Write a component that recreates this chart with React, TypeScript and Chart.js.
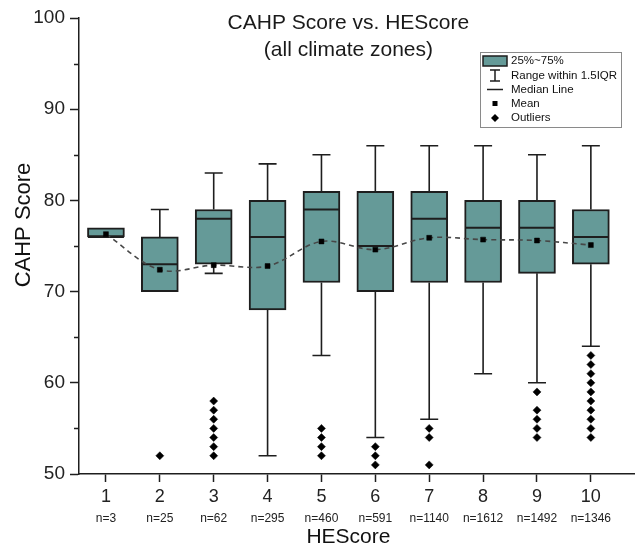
import React, { useEffect, useRef } from 'react';
import { Chart, registerables } from 'chart.js';

Chart.register(...registerables);

const FONT = "'Liberation Sans', Arial, sans-serif";

const categories = [1, 2, 3, 4, 5, 6, 7, 8, 9, 10];
const countLabels = ['n=3', 'n=25', 'n=62', 'n=295', 'n=460', 'n=591', 'n=1140', 'n=1612', 'n=1492', 'n=1346'];
const whiskerLow = [76, 70, 72, 52, 63, 54, 56, 61, 60, 64];
const q1 = [76, 70, 73, 68, 71, 70, 71, 71, 72, 73];
const medians = [76, 73, 78, 76, 79, 75, 78, 77, 77, 76];
const q3 = [77, 76, 79, 80, 81, 81, 81, 80, 80, 79];
const whiskerHigh = [77, 79, 83, 84, 85, 86, 86, 86, 85, 86];
const means = [76.3, 72.4, 72.9, 72.8, 75.5, 74.6, 75.9, 75.7, 75.6, 75.1];
const outliers: number[][] = [
  [],
  [52],
  [52, 53, 54, 55, 56, 57, 58],
  [],
  [52, 53, 54, 55],
  [51, 52, 53],
  [51, 54, 55],
  [],
  [54, 55, 56, 57, 59],
  [54, 55, 56, 57, 58, 59, 60, 61, 62, 63],
];
const yMajorTicks = [50, 60, 70, 80, 90, 100];
const yMinorTicks = [55, 65, 75, 85, 95];
const titleLines = ['CAHP Score vs. HEScore', '(all climate zones)'];
const xTitle = 'HEScore';
const yTitle = 'CAHP Score';
const legendItems = ['25%~75%', 'Range within 1.5IQR', 'Median Line', 'Mean', 'Outliers'];

const BOX_FILL = '#659a98';
const INK = '#1e1e1e';

export default function App() {
  const ref = useRef<HTMLCanvasElement | null>(null);

  useEffect(() => {
    document.body.style.margin = '0';
    const canvas = ref.current;
    if (!canvas) return;

    const boxPlugin = {
      id: 'boxExtras',
      beforeDatasetsDraw(chart: any) {
        const { ctx, scales } = chart;
        const xs = scales.x;
        const ys = scales.y;
        ctx.save();
        ctx.strokeStyle = INK;
        ctx.lineWidth = 1.6;
        categories.forEach((c, i) => {
          const x = xs.getPixelForValue(c);
          const yH = ys.getPixelForValue(whiskerHigh[i]);
          const yQ3 = ys.getPixelForValue(q3[i]);
          const yQ1 = ys.getPixelForValue(q1[i]);
          const yL = ys.getPixelForValue(whiskerLow[i]);
          ctx.beginPath();
          if (whiskerHigh[i] > q3[i]) {
            ctx.moveTo(x, yH);
            ctx.lineTo(x, yQ3);
            ctx.moveTo(x - 9, yH);
            ctx.lineTo(x + 9, yH);
          }
          if (whiskerLow[i] < q1[i]) {
            ctx.moveTo(x, yQ1);
            ctx.lineTo(x, yL);
            ctx.moveTo(x - 9, yL);
            ctx.lineTo(x + 9, yL);
          }
          ctx.stroke();
        });
        ctx.restore();
      },
      afterDatasetDraw(chart: any, args: any) {
        if (args.index !== 0) return;
        const { ctx, scales } = chart;
        const xs = scales.x;
        const ys = scales.y;
        ctx.save();
        ctx.strokeStyle = INK;
        ctx.lineWidth = 2;
        categories.forEach((c, i) => {
          const x = xs.getPixelForValue(c);
          const y = ys.getPixelForValue(medians[i]);
          ctx.beginPath();
          ctx.moveTo(x - 18, y);
          ctx.lineTo(x + 18, y);
          ctx.stroke();
        });
        ctx.restore();
      },
      afterDraw(chart: any) {
        const { ctx, scales } = chart;
        const xs = scales.x;
        const ys = scales.y;
        ctx.save();
        // minor y ticks
        ctx.strokeStyle = INK;
        ctx.lineWidth = 1.5;
        const ax = chart.chartArea.left;
        yMinorTicks.forEach((v) => {
          const y = Math.round(ys.getPixelForValue(v)) + 0.5;
          ctx.beginPath();
          ctx.moveTo(ax - 5, y);
          ctx.lineTo(ax, y);
          ctx.stroke();
        });
        // n= labels
        ctx.fillStyle = '#222';
        ctx.font = `12px ${FONT}`;
        ctx.textAlign = 'center';
        ctx.textBaseline = 'middle';
        categories.forEach((c, i) => {
          ctx.fillText(countLabels[i], xs.getPixelForValue(c), 519);
        });
        // title
        ctx.font = `21px ${FONT}`;
        ctx.fillStyle = '#1a1a1a';
        const tx = xs.getPixelForValue(5.5);
        ctx.fillText(titleLines[0], tx, 23);
        ctx.fillText(titleLines[1], tx, 50);
        // axis titles
        ctx.fillStyle = '#111';
        ctx.font = `21px ${FONT}`;
        ctx.fillText(xTitle, tx, 537);
        ctx.save();
        ctx.translate(24, 225);
        ctx.rotate(-Math.PI / 2);
        ctx.font = `22px ${FONT}`;
        ctx.fillText(yTitle, 0, 0);
        ctx.restore();
        // legend
        const lx = 480, ly = 52, lw = 141, lh = 75;
        ctx.fillStyle = '#ffffff';
        ctx.fillRect(lx, ly, lw, lh);
        ctx.strokeStyle = '#8a8a8a';
        ctx.lineWidth = 1;
        ctx.strokeRect(lx + 0.5, ly + 0.5, lw, lh);
        const rows = [61, 75.5, 89.5, 103.5, 118];
        const ix = 495;
        // swatch
        ctx.fillStyle = BOX_FILL;
        ctx.fillRect(483, 56, 24, 10);
        ctx.strokeStyle = INK;
        ctx.lineWidth = 1.5;
        ctx.strokeRect(483, 56, 24, 10);
        // range icon
        ctx.beginPath();
        ctx.moveTo(ix, 70);
        ctx.lineTo(ix, 81);
        ctx.moveTo(ix - 5, 70);
        ctx.lineTo(ix + 5, 70);
        ctx.moveTo(ix - 5, 81);
        ctx.lineTo(ix + 5, 81);
        ctx.stroke();
        // median
        ctx.beginPath();
        ctx.moveTo(487, rows[2]);
        ctx.lineTo(503, rows[2]);
        ctx.stroke();
        // mean
        ctx.fillStyle = '#000';
        ctx.fillRect(ix - 2.5, rows[3] - 2.5, 5, 5);
        // outlier diamond
        ctx.beginPath();
        ctx.moveTo(ix, rows[4] - 4);
        ctx.lineTo(ix + 4, rows[4]);
        ctx.lineTo(ix, rows[4] + 4);
        ctx.lineTo(ix - 4, rows[4]);
        ctx.closePath();
        ctx.fill();
        ctx.font = `11.5px ${FONT}`;
        ctx.textAlign = 'left';
        ctx.fillStyle = '#111';
        legendItems.forEach((t, i) => ctx.fillText(t, 511, rows[i]));
        ctx.restore();
      },
    };

    const outlierPoints: { x: number; y: number }[] = [];
    categories.forEach((c, i) => outliers[i].forEach((v) => outlierPoints.push({ x: c, y: v })));

    const chart = new Chart(canvas, {
      type: 'bar',
      data: {
        datasets: [
          {
            type: 'bar',
            data: categories.map((c, i) => ({ x: c, y: [q1[i], q3[i]] })) as any,
            backgroundColor: BOX_FILL,
            borderColor: INK,
            borderWidth: 2,
            borderSkipped: false,
            barThickness: 37,
            order: 3,
          } as any,
          {
            type: 'line',
            data: categories.map((c, i) => ({ x: c, y: means[i] })),
            borderColor: '#474747',
            borderWidth: 1.6,
            borderDash: [5, 4],
            tension: 0.35,
            pointStyle: 'rect',
            pointRadius: 3.5,
            pointBackgroundColor: '#000',
            pointBorderColor: '#000',
            pointBorderWidth: 0.5,
            order: 2,
          } as any,
          {
            type: 'scatter',
            data: outlierPoints,
            pointStyle: 'rectRot',
            pointRadius: 4,
            backgroundColor: '#000',
            borderColor: '#000',
            borderWidth: 0.5,
            order: 1,
          } as any,
        ],
      },
      options: {
        animation: false,
        responsive: true,
        maintainAspectRatio: false,
        layout: { padding: { top: 18, right: 0, left: 0, bottom: 0 } },
        plugins: {
          legend: { display: false },
          tooltip: { enabled: false },
          title: { display: false },
        },
        scales: {
          x: {
            type: 'linear',
            min: 0.5,
            max: 10.81,
            offset: false,
            afterBuildTicks: (scale: any) => {
              scale.ticks = categories.map((v) => ({ value: v }));
            },
            afterFit: (scale: any) => {
              scale.height = 76;
            },
            grid: {
              display: true,
              offset: false,
              drawOnChartArea: false,
              drawTicks: true,
              tickLength: 8,
              tickColor: INK,
              tickWidth: 1.5,
            },
            border: { display: true, color: INK, width: 1.5 },
            ticks: {
              font: { size: 18, family: FONT },
              color: '#222',
              padding: 4,
              maxRotation: 0,
              autoSkip: false,
              callback: (v: any) => String(v),
            },
            title: { display: false },
          },
          y: {
            type: 'linear',
            min: 50,
            max: 100,
            afterBuildTicks: (scale: any) => {
              scale.ticks = yMajorTicks.map((v) => ({ value: v }));
            },
            afterFit: (scale: any) => {
              scale.width = 79;
            },
            grid: {
              display: true,
              drawOnChartArea: false,
              drawTicks: true,
              tickLength: 9,
              tickColor: INK,
              tickWidth: 1.5,
            },
            border: { display: true, color: INK, width: 1.5 },
            ticks: {
              font: { size: 19, family: FONT },
              color: '#222',
              padding: 5,
              callback: (v: any) => String(v),
            },
            title: { display: false },
          },
        },
      },
      plugins: [boxPlugin],
    } as any);

    return () => chart.destroy();
  }, []);

  return (
    <div style={{ width: 639, height: 550, position: 'relative' }}>
      <canvas ref={ref} />
    </div>
  );
}
